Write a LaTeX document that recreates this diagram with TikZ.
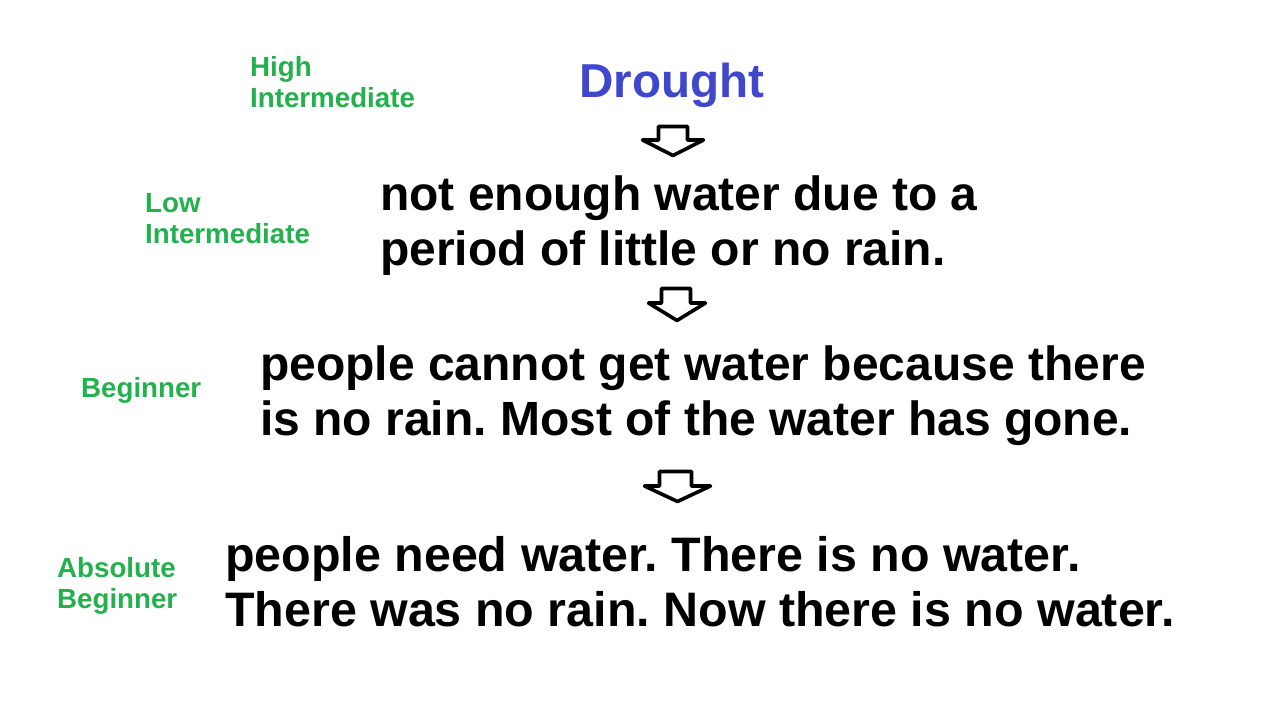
\documentclass[tikz,border=0pt]{standalone}
\usepackage{fontspec}
\setmainfont{Liberation Sans}
\frenchspacing
\definecolor{droughtblue}{HTML}{3F48CC}
\definecolor{levelgreen}{HTML}{22B14C}
\tikzset{
  level/.style={anchor=base west, inner sep=0pt, text=levelgreen,
    font=\fontsize{27.7}{31.5}\selectfont\bfseries},
  body/.style={anchor=base west, inner sep=0pt, text=black,
    font=\fontsize{48}{55}\selectfont\bfseries},
  blockarr/.style={draw=black, fill=white, line width=3.6pt, line join=round}
}
\newcommand{\twoline}[2]{\begin{tabular}[t]{@{}l@{}}#1\\#2\end{tabular}}
\begin{document}
\begin{tikzpicture}[x=1pt,y=-1pt]
\useasboundingbox[fill=white] (0,0) rectangle (1280,720);
% title
\node[anchor=base west, inner sep=0pt, text=droughtblue,
  font=\fontsize{47.6}{54}\selectfont\bfseries] (title) at (579,97) {Drought};
% body texts
\node[body] (t2) at (380,210) {\twoline{not enough water due to a}{period of little or no rain.}};
\node[body] (t3) at (260,380) {\twoline{people cannot get water because there}{is no rain. Most of the water has gone.}};
\node[body, font=\fontsize{48.4}{55.5}\selectfont\bfseries] (t4) at (225,571) {\twoline{people need water. There is no water.}{There was no rain. Now there is no water.}};
% level labels
\node[level] (l1) at (250,76) {\twoline{High}{Intermediate}};
\node[level] (l2) at (145,212) {\twoline{Low}{Intermediate}};
\node[level] (l3) at (81,397) {Beginner};
\node[level] (l4) at (57,577) {\twoline{Absolute}{Beginner}};
% block arrows
\draw[blockarr] (658.5,126.5) -- (687.5,126.5) -- (687.5,140) -- (703.5,140)
  -- (673,155.5) -- (642.5,140) -- (658.5,140) -- cycle;
\draw[blockarr] (661.5,288.5) -- (690.5,288.5) -- (690.5,303) -- (705.5,303)
  -- (677,320.5) -- (648.5,303) -- (661.5,303) -- cycle;
\draw[blockarr] (659.5,471.5) -- (691.5,471.5) -- (691.5,486) -- (710.5,486)
  -- (677.5,501.5) -- (644.5,486) -- (659.5,486) -- cycle;
\end{tikzpicture}
\end{document}
